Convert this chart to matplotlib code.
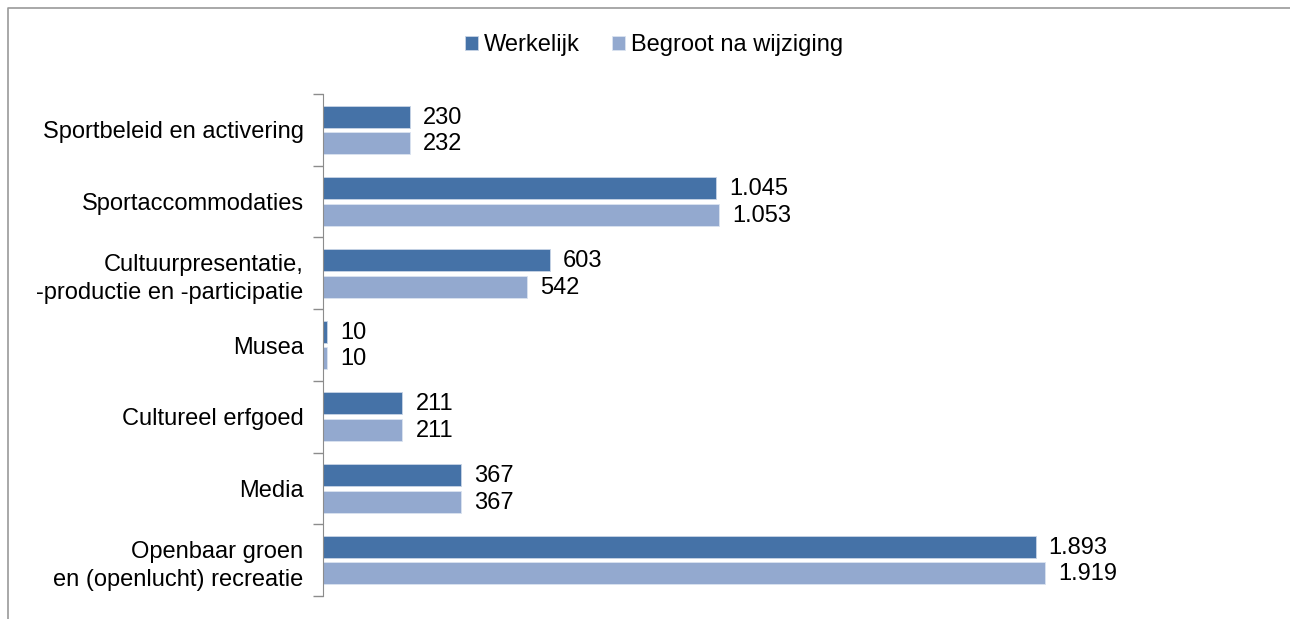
import matplotlib.pyplot as plt
import matplotlib.lines as mlines
import numpy as np

plt.rcParams['font.family'] = ['Liberation Sans', 'DejaVu Sans']

# Data
categories = ['Sportbeleid en activering', 'Sportaccommodaties',
              'Cultuurpresentatie,\n-productie en -participatie', 'Musea',
              'Cultureel erfgoed', 'Media',
              'Openbaar groen\nen (openlucht) recreatie']
werkelijk = [230, 1045, 603, 10, 211, 367, 1893]
begroot = [232, 1053, 542, 10, 211, 367, 1919]
series_names = ['Werkelijk', 'Begroot na wijziging']
colors = ['#4572A7', '#93A9CF']

W, H = 1290, 619
fig = plt.figure(figsize=(W / 100, H / 100), dpi=100)

# outer chart border (top and left edges visible only)
fig.lines.append(mlines.Line2D([8 / W, 8 / W, 1.0], [0.0, 1 - 8 / H, 1 - 8 / H],
                               transform=fig.transFigure, color='#9a9a9a', linewidth=1.2))

ax = fig.add_axes([323 / W, 1 - 596 / H, (1264 - 323) / W, (596 - 94) / H])

n = len(categories)
y = np.arange(n)
h = 0.307
off = 0.185

fmt = lambda v: f'{v:,}'.replace(',', '.')

b1 = ax.barh(y - off, werkelijk, height=h, color=colors[0], edgecolor='#c8d4e6',
             linewidth=0.6, label=series_names[0])
b2 = ax.barh(y + off, begroot, height=h, color=colors[1], edgecolor='#dbe3f0',
             linewidth=0.6, label=series_names[1])

for bars, vals in ((b1, werkelijk), (b2, begroot)):
    for bar, v in zip(bars, vals):
        ax.annotate(fmt(v), (v, bar.get_y() + bar.get_height() / 2),
                    xytext=(13, -1), textcoords='offset pixels',
                    va='center', ha='left', fontsize=17, color='black')

ax.set_xlim(0, 2500)
ax.set_ylim(n - 0.5, -0.5)

# boundaries as major ticks, labels on minor ticks
ax.set_yticks(np.arange(n + 1) - 0.5)
ax.set_yticklabels([])
ax.tick_params(axis='y', which='major', length=7, color='#8c8c8c', width=1)
ax.set_yticks(y, minor=True)
ax.set_yticklabels(categories, minor=True, fontsize=17, ha='right',
                   multialignment='right', linespacing=1.35)
ax.tick_params(axis='y', which='minor', length=0, pad=14)

ax.xaxis.set_visible(False)
for s in ['top', 'right', 'bottom']:
    ax.spines[s].set_visible(False)
ax.spines['left'].set_color('#8c8c8c')

fig.legend(handles=[b1, b2], labels=series_names, loc='center',
           bbox_to_anchor=(654 / W, 1 - 45 / H), ncol=2, frameon=False,
           fontsize=17, handlelength=0.55, handleheight=0.55, handletextpad=0.25,
           columnspacing=1.4)

fig.savefig('out.png', dpi=100)
